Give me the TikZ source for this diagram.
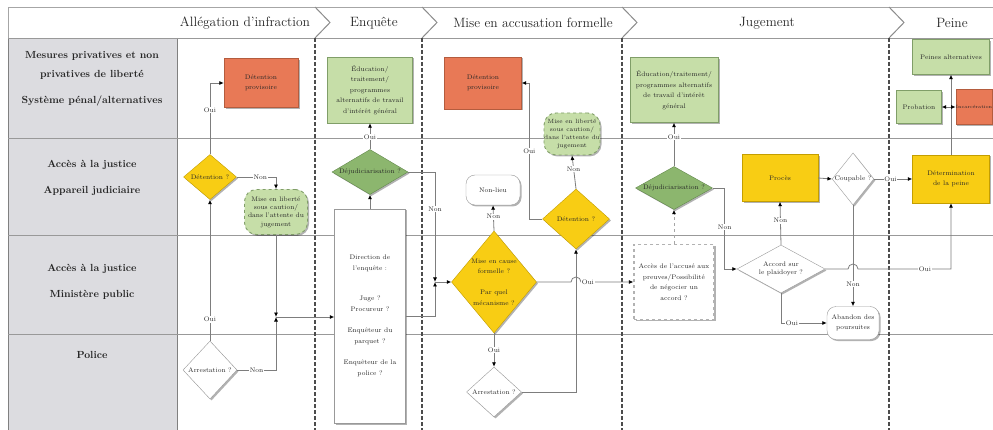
\documentclass[tikz,border=0pt]{standalone}
\usepackage{fontspec}
\usepackage{tikz}
\usetikzlibrary{positioning,shapes,shapes.geometric,shadows,arrows.meta,calc}
\definecolor{myorange}{RGB}{232,121,86}
\definecolor{myorangeline}{RGB}{180,92,62}
\definecolor{mygreen}{RGB}{198,222,168}
\definecolor{mygreenline}{RGB}{128,158,104}
\definecolor{mydarkgreen}{RGB}{140,182,110}
\definecolor{mydarkgreenline}{RGB}{98,136,76}
\definecolor{myyellow}{RGB}{248,205,20}
\definecolor{myyellowline}{RGB}{196,158,0}
\definecolor{mygrey}{RGB}{220,220,224}
\definecolor{myline}{RGB}{125,125,125}
\newcommand{\headtxt}{\fontsize{13.5}{16}\selectfont}
\newcommand{\rowtxt}{\fontsize{10.3}{19}\selectfont\bfseries}
\newcommand{\boxtxt}{\fontsize{6.6}{10.5}\selectfont}
\newcommand{\cloudtxt}{\fontsize{6.6}{8.3}\selectfont}
\newcommand{\tinytxt}{\fontsize{4.6}{5}\selectfont}

\begin{document}
\begin{tikzpicture}[x=1pt,y=-1pt,
		  every node/.style={inner sep=1pt,text=black!85,font=\boxtxt,align=center},
		  boxshadow/.style={drop shadow={shadow xshift=1.5pt,shadow yshift=-1.5pt,opacity=0.3,fill=black}},
		  orangebox/.style={draw=myorangeline,fill=myorange,boxshadow},
		  greenbox/.style={draw=mygreenline,fill=mygreen,boxshadow},
		  darkbox/.style={draw=mydarkgreenline,fill=mydarkgreen,boxshadow},
		  yellowbox/.style={draw=myyellowline,fill=myyellow,boxshadow},
		  whitebox/.style={draw=black!40,fill=white,boxshadow},
		  decision/.style={diamond,inner sep=0pt},
		  cloudbox/.style={draw=mygreenline,dashed,line width=0.9pt,fill=mygreen,rounded corners=12pt,inner sep=0pt,font=\cloudtxt,boxshadow},
		  endbox/.style={draw=black!40,fill=white,rounded corners=9pt,boxshadow},
		  link/.style={draw=myline,line width=0.8pt,-{Latex[length=4.5pt,width=4pt,color=black]}},
		  lbl/.style={fill=white,inner sep=0.8pt},
		  lane/.style={draw=black!70,line width=1.1pt,dash pattern=on 4pt off 2pt}
		]
			\useasboundingbox (0,0) rectangle (993,430);

			% the header
			\draw[black!35,line width=0.8pt,fill=white] (8,7) rectangle (993,38);
			\foreach \x in {315,422,622,889}
			  \draw[black!45,line width=1pt] (\x,7) -- (\x+15,22.5) -- (\x,38);
			\node[font=\headtxt] (h1) at (245,23) {Allégation d'infraction};
			\node[font=\headtxt] (h2) at (374,23) {Enquête};
			\node[font=\headtxt] (h3) at (533,23) {Mise en accusation formelle};
			\node[font=\headtxt] (h4) at (767,23) {Jugement};
			\node[font=\headtxt] (h5) at (952,23) {Peine};

			% the rows
			\fill[mygrey] (8,38) rectangle (177,430);
			\draw[black!50,line width=0.8pt] (8,38) -- (8,430);
			\draw[black!50,line width=0.8pt] (177,38) -- (177,430);
			\foreach \y in {38,138,235,334}
			  \draw[black!40,line width=0.8pt] (8,\y) -- (993,\y);
			\node[font=\rowtxt] (r1) at (92,79) {Mesures privatives et non\\privatives de liberté\\[7pt]Système pénal/alternatives};
			\node[font=\rowtxt] (r2) at (92,178) {Accès à la justice\\[7pt]Appareil judiciaire};
			\node[font=\rowtxt] (r3) at (92,282) {Accès à la justice\\[7pt]Ministère public};
			\node[font=\rowtxt] (r4) at (92,355) {Police};

			% the lanes
			\foreach \x in {315,422,622,889}
			  \draw[lane] (\x,38) -- (\x,430);

			% allegation d'infraction
			\node[orangebox,minimum width=74,minimum height=49] (dp1) at (261,83) {Détention\\provisoire};
			\node[decision,yellowbox,minimum width=53,minimum height=45,aspect=1.2] (det1) at (210,177) {Détention ?};
			\node[cloudbox,minimum width=63,minimum height=45] (lib1) at (276,212) {Mise en liberté\\sous caution/\\dans l'attente du\\jugement};
			\node[decision,whitebox,minimum width=54,minimum height=58,aspect=1] (arr1) at (210,370) {Arrestation ?};
			\coordinate (j1) at (276,317);

			% enquete
			\node[greenbox,minimum width=85,minimum height=66] (edu1) at (370,90) {Éducation/\\traitement/\\programmes\\alternatifs de travail\\d'intérêt général};
			\node[decision,darkbox,minimum width=76,minimum height=45,aspect=1.7] (dej1) at (370,172) {Déjudiciarisation ?};
			\node[whitebox,minimum width=71,minimum height=214] (dir) at (370,316) {Direction de\\l'enquête :\\[20pt]Juge ?\\Procureur ?\\[11pt]Enquêteur du\\parquet ?\\[11pt]Enquêteur de la\\police ?};
			\coordinate (j2) at (435,282);

			% mise en accusation formelle
			\node[orangebox,minimum width=77,minimum height=52] (dp2) at (483,83) {Détention\\provisoire};
			\node[cloudbox,minimum width=56,minimum height=42,font=\fontsize{6.1}{8.2}\selectfont] (lib2) at (572,134) {Mise en liberté\\sous caution/\\dans l'attente du\\jugement};
			\node[decision,yellowbox,minimum width=67,minimum height=60,aspect=1.1] (det2) at (576,219) {Détention ?};
			\node[endbox,minimum width=54,minimum height=30] (nl) at (493,190) {Non-lieu};
			\node[decision,yellowbox,minimum width=85,minimum height=102,aspect=0.83] (mec) at (494,282) {Mise en cause\\formelle ?\\[10.5pt]Par quel\\mécanisme ?};
			\node[decision,whitebox,minimum width=55,minimum height=50,aspect=1.1] (arr2) at (494,392) {Arrestation ?};

			% jugement
			\node[greenbox,minimum width=88,minimum height=65] (edu2) at (674,90) {Éducation/traitement/\\programmes alternatifs\\de travail d'intérêt\\général};
			\node[decision,darkbox,minimum width=77,minimum height=43,aspect=1.8] (dej2) at (674,188) {Déjudiciarisation ?};
			\node[whitebox,draw=black!30,dashed,line width=1.2pt,minimum width=80,minimum height=75] (acc) at (674,282) {Accès de l'accusé aux\\preuves/Possibilité\\de négocier un\\accord ?};
			\node[decision,whitebox,minimum width=88,minimum height=48,aspect=1.8,font=\cloudtxt] (plaid) at (781,269) {Accord sur\\le plaidoyer ?};
			\node[yellowbox,minimum width=76,minimum height=47] (proc) at (780,178) {Procès};
			\node[decision,whitebox,minimum width=40,minimum height=48,aspect=0.8] (coup) at (853,179) {Coupable ?};
			\node[endbox,minimum width=52,minimum height=33,font=\fontsize{6.6}{10}\selectfont] (aband) at (853,323) {Abandon des\\poursuites};

			% peine
			\node[yellowbox,minimum width=77,minimum height=48,font=\fontsize{6.6}{10}\selectfont] (detp) at (951,179) {Détermination\\de la peine};
			\node[greenbox,minimum width=77,minimum height=35] (palt) at (951,57) {Peines alternatives};
			\node[greenbox,minimum width=45,minimum height=33] (prob) at (919,107) {Probation};
			\node[orangebox,minimum width=31,minimum height=35,inner sep=0pt,font=\tinytxt] (inc) at (974,107) {Incarcération};
			\coordinate (pb) at (detp.north |- prob.east);

			% the edges
			\draw[link] (arr1.north) -- (det1.south) node[lbl,pos=0.15] {Oui};
			\draw[link] (det1.north) |- (dp1.west) node[lbl,pos=0.31] {Oui};
			\draw[link] (det1.east) -| (lib1.north) node[lbl,pos=0.3] {Non};
			\draw[link] (lib1.south) -- (j1);
			\draw[link] (arr1.east) -| (j1) node[lbl,pos=0.25] {Non};
			\draw[link] (j1) -- (j1 -| dir.west);

			\draw[link] (dej1.north) -- (edu1.south) node[lbl,pos=0.46] {Oui};
			\draw[link] (dir.north) -- (dej1.south);
			\draw[link] (dej1.east) -| (j2) node[lbl,pos=0.67] {Non};
			\draw[link] (dir.east) -| (j2);
			\draw[link] (j2) -- (mec.west);

			\draw[link] (mec.north) -- (nl.south) node[lbl,pos=0.55] {Non};
			\draw[link] (mec.south) -- (arr2.north) node[lbl,pos=0.5] {Oui};
			\draw[link] (arr2.east) -| (det2.south);
			\draw[link] (det2.west) -- ++(-13,0) |- (dp2.east) node[lbl,pos=0.25] {Oui};
			\draw[link] (det2.north) -- (lib2.south) node[lbl,pos=0.6] {Non};
			\draw[link] (mec.east) -- ($(mec.east -| det2.south)+(-5,0)$) arc[start angle=180,end angle=0,radius=5pt] -- (acc.west) node[lbl,pos=0.13] {Oui};

			\draw[link] (dej2.north) -- (edu2.south) node[lbl,pos=0.67] {Oui};
			\draw[link,draw=black!35,dashed] (acc.north) -- (dej2.south);
			\draw[link] (dej2.east) -- ++(12,0) |- (plaid.west) node[lbl,pos=0.24] {Non};
			\draw[link] (plaid.north) -- (proc.south) node[lbl,pos=0.56] {Non};
			\draw[link] (plaid.south) |- (aband.west) node[lbl,pos=0.62] {Oui};
			\draw[link] (proc.east) -- (coup.west);
			\draw[link] (coup.south) -- (aband.north) node[lbl,pos=0.78] {Non};
			\draw[link] (coup.east) -- (detp.west) node[lbl,pos=0.43] {Oui};
			\draw[link] (plaid.east) -- ($(plaid.east -| coup.south)+(-5,0)$) arc[start angle=180,end angle=0,radius=5pt] -| (detp.south) node[lbl,pos=0.36] {Oui};

			\draw[link] (detp.north) -- (palt.south);
			\draw[link] (pb) -- (prob.east);
			\draw[link] (pb) -- (inc.west);

		\end{tikzpicture}
\end{document}
